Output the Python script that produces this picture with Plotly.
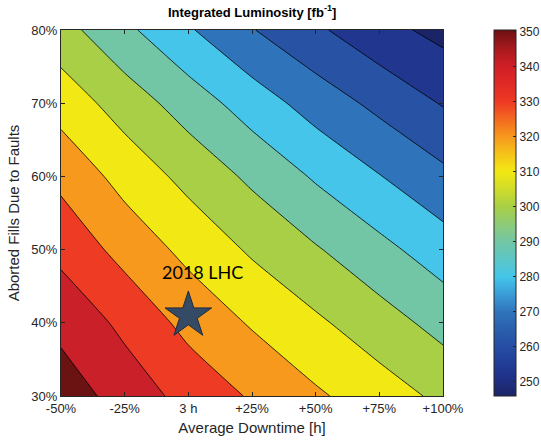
import plotly.graph_objects as go

# ---- data ----
downtime_pct = [-50, -25, 0, 25, 50, 75, 100]          # x grid (% change of average downtime, 0 = 3 h)
aborted_pct = [30, 40, 50, 60, 70, 80]                 # y grid (% aborted fills)
x_tick_labels = ["-50%", "-25%", "3 h", "+25%", "+50%", "+75%", "+100%"]
y_tick_labels = ["30%", "40%", "50%", "60%", "70%", "80%"]

# integrated luminosity [fb^-1], rows follow aborted_pct, columns follow downtime_pct
lumi = [
    [356.2, 345.3, 336.9, 328.9, 321.5, 314.8, 307.8],
    [346.8, 337.8, 327.0, 319.0, 311.7, 304.3, 296.6],
    [337.4, 326.5, 317.3, 308.6, 300.9, 292.9, 284.7],
    [327.3, 316.5, 307.0, 298.0, 288.8, 280.4, 272.4],
    [315.9, 305.4, 295.4, 285.2, 275.7, 267.4, 259.3],
    [303.7, 292.3, 281.1, 270.5, 261.7, 253.3, 247.0],
]
levels_start, levels_end, levels_step = 250, 350, 10
cbar_min, cbar_max = 246, 350.5
cbar_ticks = [250, 260, 270, 280, 290, 300, 310, 320, 330, 340, 350]

marker_x = [0]
marker_y = [41]
marker_label = "2018 LHC"

# ---- colours ----
band_colors = ["#1c2468", "#20368f", "#2853a4", "#2f74bb", "#45c5ea", "#73c6a5",
               "#a8cf45", "#f2e813", "#f7991d", "#ee3b24", "#c9202a", "#6b1213"]
n = len(band_colors) - 1
band_scale = [[i / n, c] for i, c in enumerate(band_colors)]

bar_anchor_vals = [246, 252, 258, 264, 270, 275, 280, 285, 290, 295, 300, 305,
                   310, 315, 320, 325, 330, 335, 340, 345, 350.5]
bar_anchor_cols = ["#1c2466", "#20338c", "#2446a0", "#2a5bab", "#2f74bb", "#3a9cd6",
                   "#44c5ea", "#5cc6c6", "#72c6a5", "#8ecb78", "#a8cf45", "#cfdc2a",
                   "#f2e813", "#f5c419", "#f7981d", "#f36a21", "#ee3a24", "#e02a25",
                   "#d01f26", "#a81a1e", "#6d1011"]
bar_scale = [[(v - cbar_min) / (cbar_max - cbar_min), c]
             for v, c in zip(bar_anchor_vals, bar_anchor_cols)]

TXT = "#262626"
FONT = "Liberation Sans, Arial, sans-serif"

fig = go.Figure()
fig.add_trace(go.Contour(
    x=downtime_pct, y=aborted_pct, z=lumi,
    contours=dict(start=levels_start, end=levels_end, size=levels_step, coloring="fill"),
    colorscale=band_scale, showscale=False,
    line=dict(color="#000000", width=0.8, smoothing=0.6),
    hoverinfo="skip",
))
# continuous colour bar (separate, invisible carrier)
fig.add_trace(go.Scatter(
    x=[0, 0], y=[50, 50], mode="markers", hoverinfo="skip", showlegend=False,
    marker=dict(size=1, opacity=0, color=[cbar_min, cbar_max], cmin=cbar_min, cmax=cbar_max,
                colorscale=bar_scale, showscale=True,
                colorbar=dict(x=(494 - 61) / 382, xanchor="left", y=0.5, yanchor="middle", len=1,
                              lenmode="fraction", thickness=22, xpad=0, ypad=0,
                              outlinewidth=1, outlinecolor=TXT,
                              ticks="inside", ticklen=3, tickcolor=TXT,
                              tickvals=cbar_ticks, ticktext=[str(t) for t in cbar_ticks],
                              tickfont=dict(size=12, color=TXT, family=FONT))),
))
fig.add_trace(go.Scatter(
    x=marker_x, y=marker_y, mode="markers", hoverinfo="skip", showlegend=False,
    marker=dict(symbol="star", size=35, color="#354a64", line=dict(color="#1e2b3c", width=1)),
))
fig.add_annotation(x=5.4, y=46.9, text=marker_label, showarrow=False,
                   font=dict(family="Lato, sans-serif", size=18, color="#000000"),
                   xanchor="center", yanchor="middle")

fig.update_layout(
    width=541, height=440,
    margin=dict(l=61, r=98, t=30, b=44, autoexpand=False),
    paper_bgcolor="white", plot_bgcolor="white",
    showlegend=False,
    font=dict(family=FONT, color=TXT, size=13),
    title=dict(text="<b>Integrated Luminosity [fb<sup>-1</sup>]</b>", x=0.466, xanchor="center",
               y=1 - 12 / 440, yanchor="middle", yref="container",
               font=dict(size=13, color="#000000", family=FONT)),
)
fig.update_xaxes(
    range=[-50, 100], tickvals=downtime_pct, ticktext=x_tick_labels,
    ticks="inside", ticklen=4, tickcolor=TXT, showline=True, linecolor=TXT, linewidth=1,
    mirror="ticks", showgrid=False, zeroline=False, automargin=False,
    tickfont=dict(size=13, color=TXT),
    title=dict(text="Average Downtime [h]", font=dict(size=15, color=TXT), standoff=7),
)
fig.update_yaxes(
    range=[30, 80], tickvals=aborted_pct, ticktext=y_tick_labels,
    ticks="inside", ticklen=4, tickcolor=TXT, showline=True, linecolor=TXT, linewidth=1,
    mirror="ticks", showgrid=False, zeroline=False, automargin=False,
    tickfont=dict(size=13, color=TXT),
    title=dict(text="Aborted Fills Due to Faults", font=dict(size=15, color=TXT), standoff=8),
)

fig.write_html("out.html", config={"displayModeBar": False},
               post_script="document.body.style.margin='0px';")
